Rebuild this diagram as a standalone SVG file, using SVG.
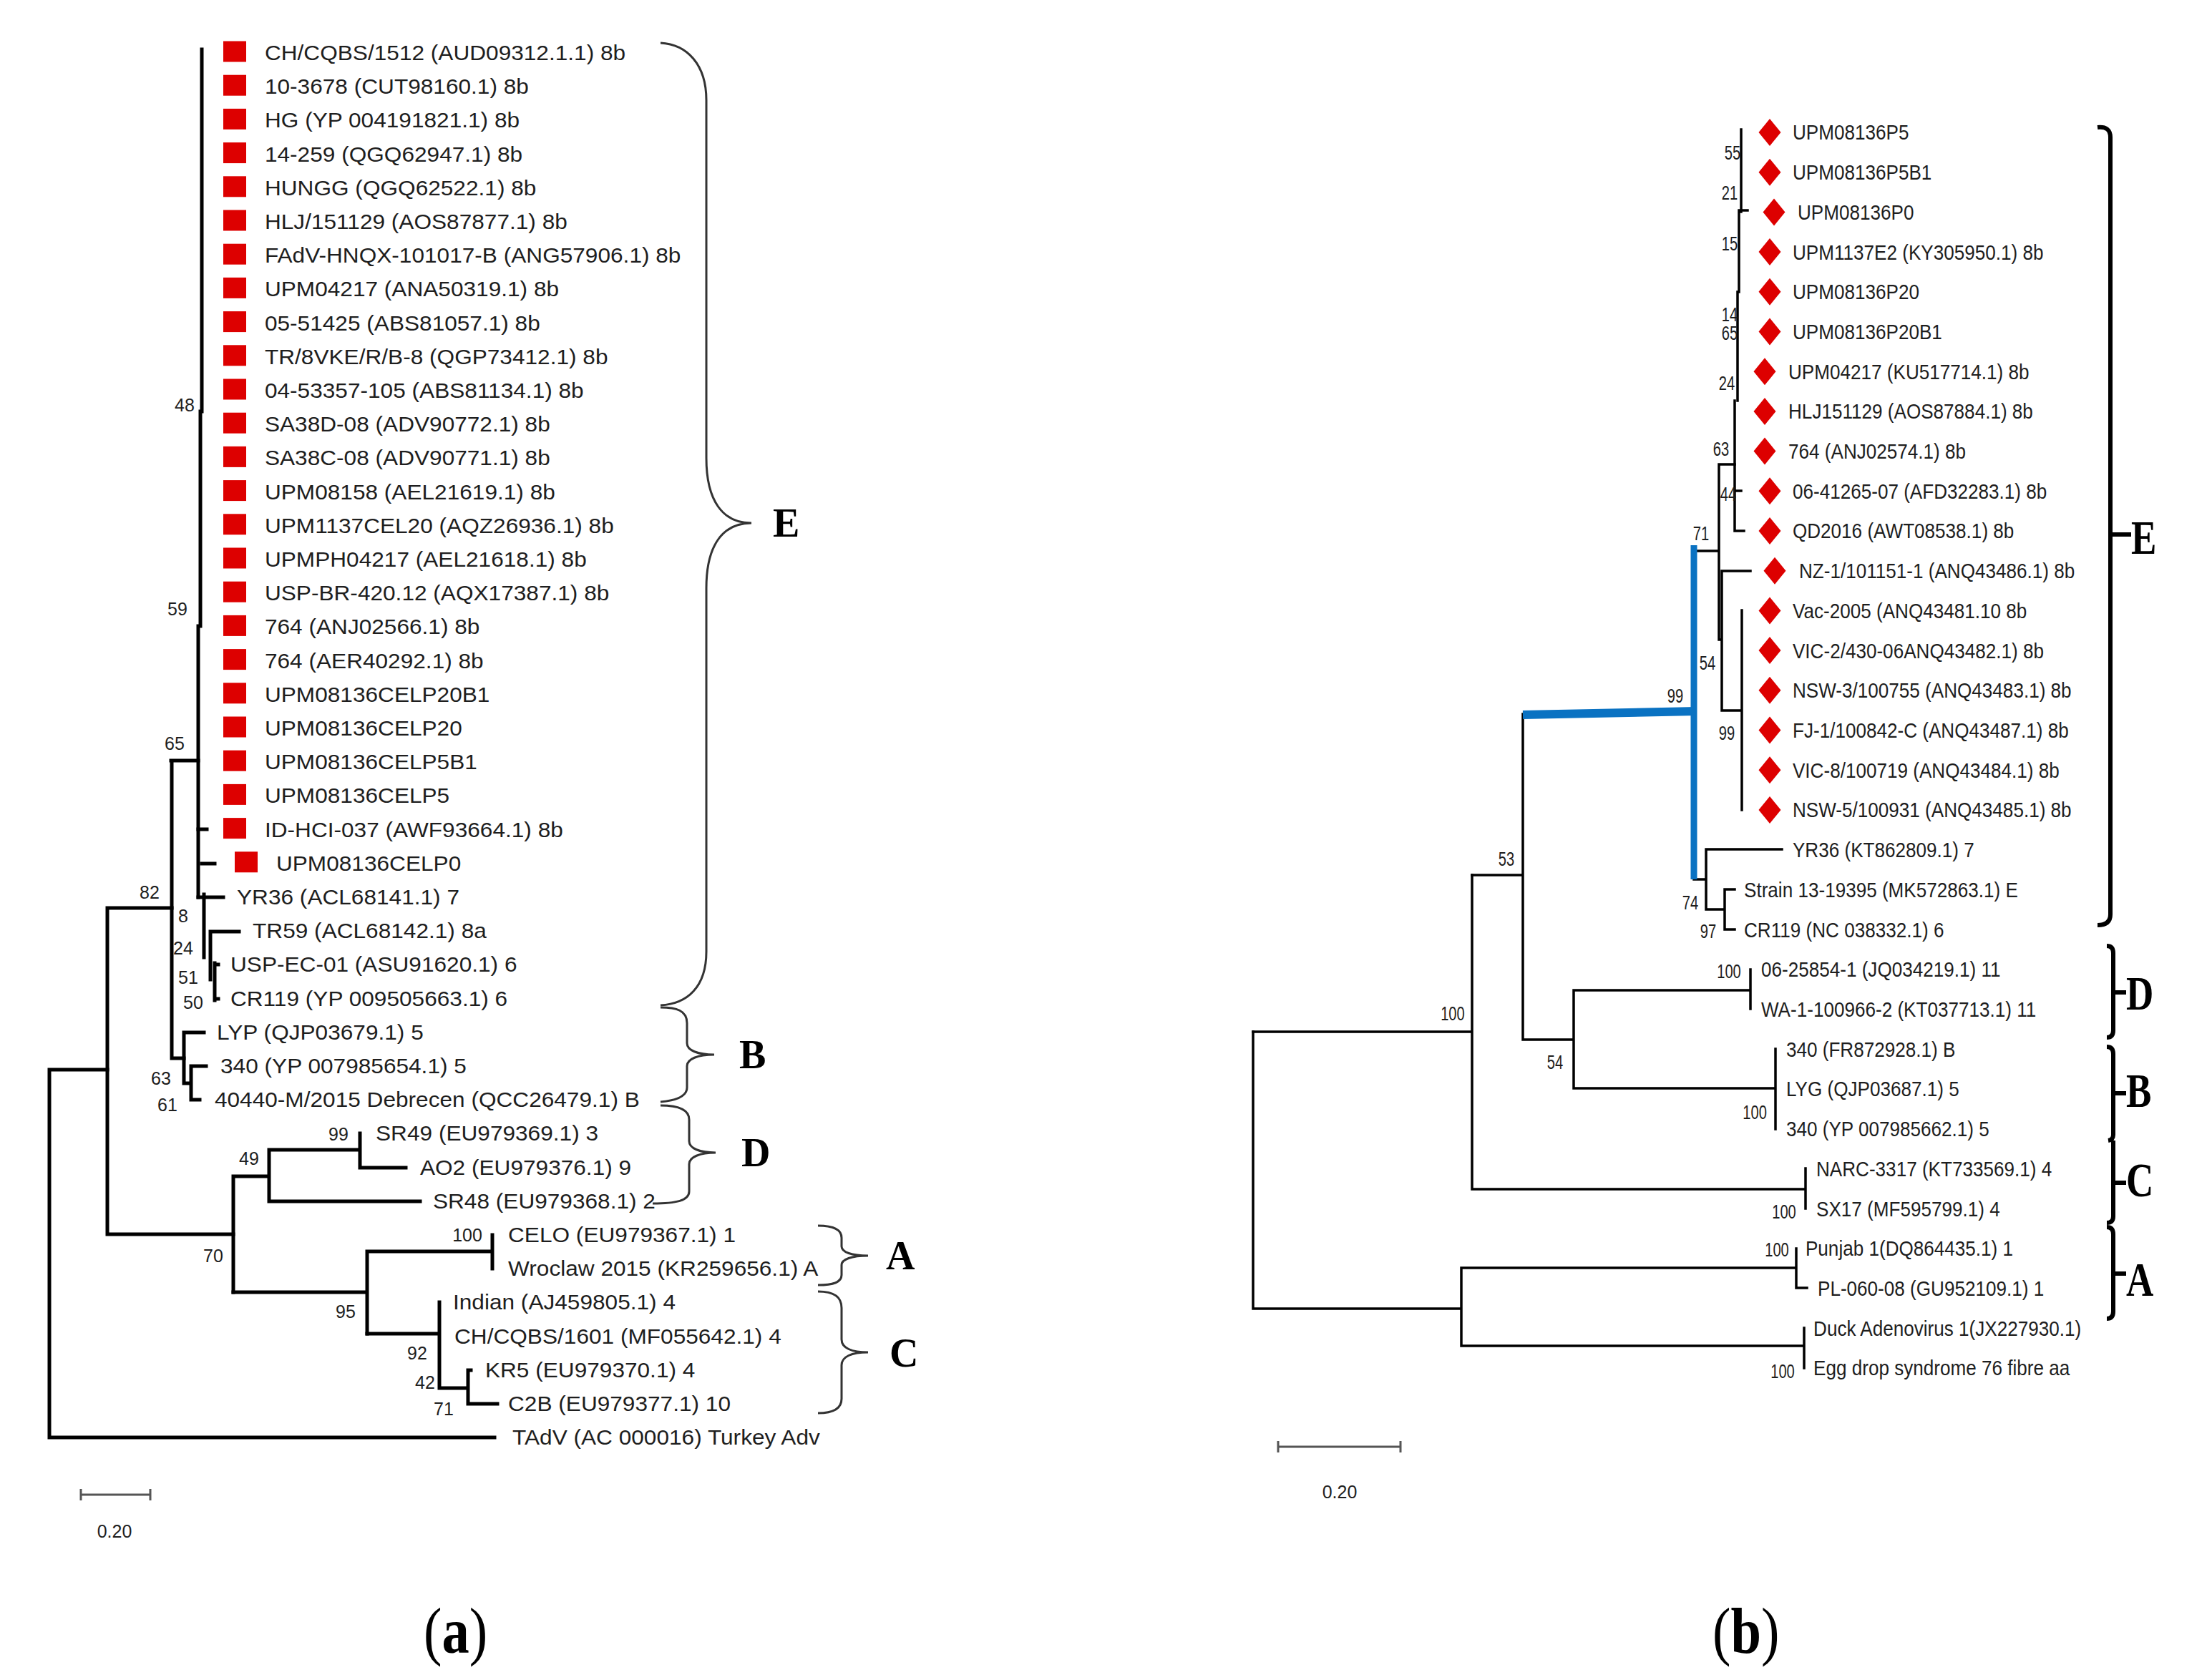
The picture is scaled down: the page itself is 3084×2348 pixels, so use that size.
<svg xmlns="http://www.w3.org/2000/svg" xmlns:xlink="http://www.w3.org/1999/xlink" width="3084" height="2348" viewBox="0 0 3084 2348">
<style>
text{font-family:"Liberation Sans",Arial,sans-serif;fill:#1e1e1e}
.lt{font-size:29px;transform:scaleX(1.09)}
.rt{font-size:29px;transform:scaleX(0.9)}
.lb{font-size:25px;text-anchor:middle}
.rb{font-size:28px;text-anchor:middle;transform:scaleX(0.72)}
.sc{font-size:25px;text-anchor:middle}
.ll{font-family:"Liberation Serif","Times New Roman",serif;font-weight:bold;font-size:56px;fill:#000}
.rl{font-family:"Liberation Serif","Times New Roman",serif;font-weight:bold;font-size:68px;fill:#000;transform:scaleX(0.78)}
.cap{font-family:"Liberation Serif","Times New Roman",serif;font-size:90px;fill:#000}
.sq{fill:#dd0000}
.lw{fill:none;stroke:#000;stroke-width:5;stroke-linecap:square}
.rw{fill:none;stroke:#000;stroke-width:3.5;stroke-linecap:square}
.blue{fill:none;stroke:#0a72c2;stroke-linecap:butt}
.brace{fill:none;stroke:#333;stroke-width:3}
.brk{fill:none;stroke:#000;stroke-width:6}
.bar{fill:none;stroke:#555;stroke-width:3}
</style>
<defs>
<path id="dia" d="M0,-19 L15.5,0 L0,19 L-15.5,0Z" fill="#dd0000"/>
</defs>
<rect width="3084" height="2348" fill="#fff"/>

<!-- ===== Left tree connectors ===== -->
<g id="left-connectors">
<path class="lw" d="M282,69 V575 M280,575 V875 M277,875 V1254"/>
<path class="lw" d="M277,1159 H289 M282,1207 H300 M277,1254 H312"/>
<path class="lw" d="M285,1250 V1338 M294,1302 V1369 M294,1302 H334 M300,1346 V1398 M300,1348 H305 M300,1396 H305"/>
<path class="lw" d="M239,1063 H277 M240,1063 V1479 M240,1479 H257"/>
<path class="lw" d="M257,1443 V1514 M257,1443 H285 M257,1514 H267 M267,1490 V1537 M267,1490 H288 M267,1537 H279"/>
<path class="lw" d="M150,1269 H240 M150,1269 V1725 M150,1725 H326"/>
<path class="lw" d="M69,1495 H150 M69,1495 V2009 M69,2009 H691"/>
<path class="lw" d="M326,1644 V1806 M326,1644 H376 M376,1607 V1679 M376,1607 H503 M503,1584 V1632 M503,1632 H567 M376,1679 H587"/>
<path class="lw" d="M326,1806 H513 M513,1749 V1864 M513,1749 H688 M688,1726 V1773"/>
<path class="lw" d="M513,1864 H614 M614,1820 V1940 M614,1940 H654 M654,1915 V1962 M654,1915 H658 M654,1962 H695"/>
<path class="bar" d="M113,2089 H210 M113,2081 V2097 M210,2081 V2097"/>
<path class="brace" d="M923,60 C960,62 987,90 987,140 V640 C987,700 1010,731 1050,731 C1010,731 987,762 987,822 V1330 C987,1380 960,1403 923,1405"/>
<path class="brace" d="M923,1408 C945,1408 960,1412 960,1430 V1458 C960,1468 975,1474 998,1474 C975,1474 960,1480 960,1490 V1520 C960,1532 945,1538 923,1540"/>
<path class="brace" d="M923,1545 C945,1545 963,1550 963,1565 V1595 C963,1605 978,1611 1000,1611 C978,1611 963,1617 963,1627 V1665 C963,1678 945,1682 912,1682"/>
<path class="brace" d="M1143,1713 C1165,1713 1176,1718 1176,1730 V1742 C1176,1750 1190,1755 1213,1755 C1190,1755 1176,1760 1176,1768 V1782 C1176,1792 1165,1796 1143,1796"/>
<path class="brace" d="M1143,1805 C1165,1805 1176,1812 1176,1828 V1872 C1176,1884 1190,1890 1213,1890 C1190,1890 1176,1896 1176,1908 V1955 C1176,1968 1165,1975 1143,1975"/>
</g>

<!-- ===== Left tree taxa ===== -->
<g id="left-taxa">
<g id="L01"><rect class="sq" x="312" y="57.5" width="32" height="29"/><text class="lt" x="339.4" y="84">CH/CQBS/1512 (AUD09312.1.1) 8b</text></g>
<g id="L02"><rect class="sq" x="312" y="104.7" width="32" height="29"/><text class="lt" x="339.4" y="131">10-3678 (CUT98160.1) 8b</text></g>
<g id="L03"><rect class="sq" x="312" y="151.9" width="32" height="29"/><text class="lt" x="339.4" y="178">HG (YP 004191821.1) 8b</text></g>
<g id="L04"><rect class="sq" x="312" y="199.1" width="32" height="29"/><text class="lt" x="339.4" y="226">14-259 (QGQ62947.1) 8b</text></g>
<g id="L05"><rect class="sq" x="312" y="246.3" width="32" height="29"/><text class="lt" x="339.4" y="273">HUNGG (QGQ62522.1) 8b</text></g>
<g id="L06"><rect class="sq" x="312" y="293.5" width="32" height="29"/><text class="lt" x="339.4" y="320">HLJ/151129 (AOS87877.1) 8b</text></g>
<g id="L07"><rect class="sq" x="312" y="340.7" width="32" height="29"/><text class="lt" x="339.4" y="367">FAdV-HNQX-101017-B (ANG57906.1) 8b</text></g>
<g id="L08"><rect class="sq" x="312" y="387.9" width="32" height="29"/><text class="lt" x="339.4" y="414">UPM04217 (ANA50319.1) 8b</text></g>
<g id="L09"><rect class="sq" x="312" y="435.1" width="32" height="29"/><text class="lt" x="339.4" y="462">05-51425 (ABS81057.1) 8b</text></g>
<g id="L10"><rect class="sq" x="312" y="482.3" width="32" height="29"/><text class="lt" x="339.4" y="509">TR/8VKE/R/B-8 (QGP73412.1) 8b</text></g>
<g id="L11"><rect class="sq" x="312" y="529.5" width="32" height="29"/><text class="lt" x="339.4" y="556">04-53357-105 (ABS81134.1) 8b</text></g>
<g id="L12"><rect class="sq" x="312" y="576.7" width="32" height="29"/><text class="lt" x="339.4" y="603">SA38D-08 (ADV90772.1) 8b</text></g>
<g id="L13"><rect class="sq" x="312" y="623.9" width="32" height="29"/><text class="lt" x="339.4" y="650">SA38C-08 (ADV90771.1) 8b</text></g>
<g id="L14"><rect class="sq" x="312" y="671.1" width="32" height="29"/><text class="lt" x="339.4" y="698">UPM08158 (AEL21619.1) 8b</text></g>
<g id="L15"><rect class="sq" x="312" y="718.3" width="32" height="29"/><text class="lt" x="339.4" y="745">UPM1137CEL20 (AQZ26936.1) 8b</text></g>
<g id="L16"><rect class="sq" x="312" y="765.5" width="32" height="29"/><text class="lt" x="339.4" y="792">UPMPH04217 (AEL21618.1) 8b</text></g>
<g id="L17"><rect class="sq" x="312" y="812.7" width="32" height="29"/><text class="lt" x="339.4" y="839">USP-BR-420.12 (AQX17387.1) 8b</text></g>
<g id="L18"><rect class="sq" x="312" y="859.9" width="32" height="29"/><text class="lt" x="339.4" y="886">764 (ANJ02566.1) 8b</text></g>
<g id="L19"><rect class="sq" x="312" y="907.1" width="32" height="29"/><text class="lt" x="339.4" y="934">764 (AER40292.1) 8b</text></g>
<g id="L20"><rect class="sq" x="312" y="954.3" width="32" height="29"/><text class="lt" x="339.4" y="981">UPM08136CELP20B1</text></g>
<g id="L21"><rect class="sq" x="312" y="1001.5" width="32" height="29"/><text class="lt" x="339.4" y="1028">UPM08136CELP20</text></g>
<g id="L22"><rect class="sq" x="312" y="1048.7" width="32" height="29"/><text class="lt" x="339.4" y="1075">UPM08136CELP5B1</text></g>
<g id="L23"><rect class="sq" x="312" y="1095.9" width="32" height="29"/><text class="lt" x="339.4" y="1122">UPM08136CELP5</text></g>
<g id="L24"><rect class="sq" x="312" y="1143.1" width="32" height="29"/><text class="lt" x="339.4" y="1170">ID-HCI-037 (AWF93664.1) 8b</text></g>
<g id="L25"><rect class="sq" x="328" y="1190.3" width="32" height="29"/><text class="lt" x="354.1" y="1217">UPM08136CELP0</text></g>
<g id="L26"><text class="lt" x="303.7" y="1264">YR36 (ACL68141.1) 7</text></g>
<g id="L27"><text class="lt" x="323.9" y="1311">TR59 (ACL68142.1) 8a</text></g>
<g id="L28"><text class="lt" x="295.4" y="1358">USP-EC-01 (ASU91620.1) 6</text></g>
<g id="L29"><text class="lt" x="295.4" y="1406">CR119 (YP 009505663.1) 6</text></g>
<g id="L30"><text class="lt" x="278" y="1453">LYP (QJP03679.1) 5</text></g>
<g id="L31"><text class="lt" x="282.6" y="1500">340 (YP 007985654.1) 5</text></g>
<g id="L32"><text class="lt" x="275.2" y="1547">40440-M/2015 Debrecen (QCC26479.1) B</text></g>
<g id="L33"><text class="lt" x="481.7" y="1594">SR49 (EU979369.1) 3</text></g>
<g id="L34"><text class="lt" x="538.5" y="1642">AO2 (EU979376.1) 9</text></g>
<g id="L35"><text class="lt" x="555" y="1689">SR48 (EU979368.1) 2</text></g>
<g id="L36"><text class="lt" x="651.4" y="1736">CELO (EU979367.1) 1</text></g>
<g id="L37"><text class="lt" x="651.4" y="1783">Wroclaw 2015 (KR259656.1) A</text></g>
<g id="L38"><text class="lt" x="580.7" y="1830">Indian (AJ459805.1) 4</text></g>
<g id="L39"><text class="lt" x="582.6" y="1878">CH/CQBS/1601 (MF055642.1) 4</text></g>
<g id="L40"><text class="lt" x="622" y="1925">KR5 (EU979370.1) 4</text></g>
<g id="L41"><text class="lt" x="651.4" y="1972">C2B (EU979377.1) 10</text></g>
<g id="L42"><text class="lt" x="656.9" y="2019">TAdV (AC 000016) Turkey Adv</text></g>
</g>

<g id="left-bootstrap">
<text class="lb" x="258" y="575">48</text>
<text class="lb" x="248" y="860">59</text>
<text class="lb" x="244" y="1048">65</text>
<text class="lb" x="209" y="1256">82</text>
<text class="lb" x="256" y="1289">8</text>
<text class="lb" x="256" y="1334">24</text>
<text class="lb" x="263" y="1375">51</text>
<text class="lb" x="270" y="1410">50</text>
<text class="lb" x="225" y="1516">63</text>
<text class="lb" x="234" y="1553">61</text>
<text class="lb" x="473" y="1594">99</text>
<text class="lb" x="348" y="1628">49</text>
<text class="lb" x="298" y="1764">70</text>
<text class="lb" x="653" y="1735">100</text>
<text class="lb" x="483" y="1842">95</text>
<text class="lb" x="583" y="1900">92</text>
<text class="lb" x="594" y="1941">42</text>
<text class="lb" x="620" y="1978">71</text>
<text class="sc" x="160" y="2149">0.20</text>
</g>

<g id="left-clades">
<text class="ll" x="1080" y="750">E</text>
<text class="ll" x="1033" y="1493">B</text>
<text class="ll" x="1036" y="1630">D</text>
<text class="ll" x="1238" y="1774">A</text>
<text class="ll" x="1243" y="1910">C</text>
</g>

<!-- ===== Right tree connectors ===== -->
<g id="right-connectors">
<path class="rw" d="M2433,181 V296 M2430,296 V408 M2428,408 V560 M2424,560 V742 M2430,294 H2442 M2424,686 H2433 M2424,742 H2437"/>
<path class="rw" d="M2402,649 H2424 M2402,649 V894 M2366,770 H2402 M2402,894 H2406 M2406,798 V993 M2406,798 H2446 M2406,993 H2434 M2434,853 V1132"/>
<path class="rw" d="M2384,1187 V1271 M2384,1187 H2490 M2384,1271 H2410 M2410,1243 V1299 M2410,1243 H2424 M2410,1299 H2424 M2367,1229 H2384"/>
<path class="rw" d="M2128,998 V1453 M2057,1223 H2128 M2128,1453 H2199 M2199,1384 V1521 M2199,1384 H2446 M2446,1355 V1410 M2199,1521 H2481 M2481,1466 V1578"/>
<path class="rw" d="M2057,1223 V1662 M1751,1442 H2057 M2057,1662 H2523 M2523,1633 V1689"/>
<path class="rw" d="M1751,1442 V1829 M1751,1829 H2042 M2042,1772 V1881 M2042,1772 H2510 M2510,1745 V1800 M2510,1800 H2525 M2042,1881 H2521 M2521,1856 V1912"/>
<path class="blue" stroke-width="12" d="M2128,999 L2370,994"/>
<path class="blue" stroke-width="9" d="M2367,762 V1229"/>
<path class="bar" d="M1786,2022 H1957 M1786,2014 V2030 M1957,2014 V2030"/>
<path class="brk" d="M2931,178 Q2949,176 2949,192 V1278 Q2949,1293 2931,1293 M2949,747 H2978"/>
<path class="brk" d="M2944,1322 Q2953,1322 2953,1332 V1440 Q2953,1450 2944,1450 M2953,1387 H2971"/>
<path class="brk" d="M2944,1463 Q2953,1463 2953,1473 V1586 Q2953,1593 2946,1594 M2953,1528 H2971"/>
<path class="brk" d="M2953,1594 V1700 Q2953,1709 2944,1709 M2953,1653 H2971"/>
<path class="brk" d="M2944,1715 Q2953,1715 2953,1725 V1833 Q2953,1843 2944,1843 M2953,1780 H2971"/>
</g>

<!-- ===== Right tree taxa ===== -->
<g id="right-taxa">
<g id="R01"><use href="#dia" x="2473" y="185"/><text class="rt" x="2783.3" y="195.5">UPM08136P5</text></g>
<g id="R02"><use href="#dia" x="2473" y="240.7"/><text class="rt" x="2783.3" y="251">UPM08136P5B1</text></g>
<g id="R03"><use href="#dia" x="2479" y="296.4"/><text class="rt" x="2791.1" y="307">UPM08136P0</text></g>
<g id="R04"><use href="#dia" x="2473" y="352.1"/><text class="rt" x="2783.3" y="363">UPM1137E2 (KY305950.1) 8b</text></g>
<g id="R05"><use href="#dia" x="2473" y="407.8"/><text class="rt" x="2783.3" y="418">UPM08136P20</text></g>
<g id="R06"><use href="#dia" x="2473" y="463.5"/><text class="rt" x="2783.3" y="474">UPM08136P20B1</text></g>
<g id="R07"><use href="#dia" x="2466" y="519.2"/><text class="rt" x="2776.7" y="530">UPM04217 (KU517714.1) 8b</text></g>
<g id="R08"><use href="#dia" x="2466" y="574.9"/><text class="rt" x="2776.7" y="585">HLJ151129 (AOS87884.1) 8b</text></g>
<g id="R09"><use href="#dia" x="2466" y="630.6"/><text class="rt" x="2776.7" y="641">764 (ANJ02574.1) 8b</text></g>
<g id="R10"><use href="#dia" x="2473" y="686.3"/><text class="rt" x="2783.3" y="697">06-41265-07 (AFD32283.1) 8b</text></g>
<g id="R11"><use href="#dia" x="2473" y="742"/><text class="rt" x="2783.3" y="752">QD2016 (AWT08538.1) 8b</text></g>
<g id="R12"><use href="#dia" x="2480" y="797.7"/><text class="rt" x="2793.3" y="808">NZ-1/101151-1 (ANQ43486.1) 8b</text></g>
<g id="R13"><use href="#dia" x="2473" y="853.4"/><text class="rt" x="2783.3" y="864">Vac-2005 (ANQ43481.10 8b</text></g>
<g id="R14"><use href="#dia" x="2473" y="909.1"/><text class="rt" x="2783.3" y="920">VIC-2/430-06ANQ43482.1) 8b</text></g>
<g id="R15"><use href="#dia" x="2473" y="964.8"/><text class="rt" x="2783.3" y="975">NSW-3/100755 (ANQ43483.1) 8b</text></g>
<g id="R16"><use href="#dia" x="2473" y="1020.5"/><text class="rt" x="2783.3" y="1031">FJ-1/100842-C (ANQ43487.1) 8b</text></g>
<g id="R17"><use href="#dia" x="2473" y="1076.2"/><text class="rt" x="2783.3" y="1087">VIC-8/100719 (ANQ43484.1) 8b</text></g>
<g id="R18"><use href="#dia" x="2473" y="1131.9"/><text class="rt" x="2783.3" y="1142">NSW-5/100931 (ANQ43485.1) 8b</text></g>
<g id="R19"><text class="rt" x="2783.3" y="1198">YR36 (KT862809.1) 7</text></g>
<g id="R20"><text class="rt" x="2707.8" y="1254">Strain 13-19395 (MK572863.1) E</text></g>
<g id="R21"><text class="rt" x="2707.8" y="1310">CR119 (NC 038332.1) 6</text></g>
<g id="R22"><text class="rt" x="2734.4" y="1365">06-25854-1 (JQ034219.1) 11</text></g>
<g id="R23"><text class="rt" x="2734.4" y="1421">WA-1-100966-2 (KT037713.1) 11</text></g>
<g id="R24"><text class="rt" x="2773.3" y="1477">340 (FR872928.1) B</text></g>
<g id="R25"><text class="rt" x="2773.3" y="1532">LYG (QJP03687.1) 5</text></g>
<g id="R26"><text class="rt" x="2773.3" y="1588">340 (YP 007985662.1) 5</text></g>
<g id="R27"><text class="rt" x="2820" y="1644">NARC-3317 (KT733569.1) 4</text></g>
<g id="R28"><text class="rt" x="2820" y="1700">SX17 (MF595799.1) 4</text></g>
<g id="R29"><text class="rt" x="2803.3" y="1755">Punjab 1(DQ864435.1) 1</text></g>
<g id="R30"><text class="rt" x="2822.2" y="1811">PL-060-08 (GU952109.1) 1</text></g>
<g id="R31"><text class="rt" x="2815.6" y="1867">Duck Adenovirus 1(JX227930.1)</text></g>
<g id="R32"><text class="rt" x="2815.6" y="1922">Egg drop syndrome 76 fibre aa</text></g>
</g>

<g id="right-bootstrap">
<text class="rb" x="3362.5" y="223">55</text>
<text class="rb" x="3356.9" y="279">21</text>
<text class="rb" x="3356.9" y="350">15</text>
<text class="rb" x="3356.9" y="449">14</text>
<text class="rb" x="3356.9" y="475">65</text>
<text class="rb" x="3351.4" y="545">24</text>
<text class="rb" x="3340.3" y="637">63</text>
<text class="rb" x="3354.2" y="700">44</text>
<text class="rb" x="3301.4" y="755">71</text>
<text class="rb" x="3313.9" y="936">54</text>
<text class="rb" x="3251.4" y="982">99</text>
<text class="rb" x="3351.4" y="1034">99</text>
<text class="rb" x="2923.6" y="1210">53</text>
<text class="rb" x="3280.6" y="1271">74</text>
<text class="rb" x="3315.3" y="1311">97</text>
<text class="rb" x="3355.6" y="1367">100</text>
<text class="rb" x="2819.4" y="1426">100</text>
<text class="rb" x="3018.1" y="1494">54</text>
<text class="rb" x="3405.6" y="1564">100</text>
<text class="rb" x="3462.5" y="1703">100</text>
<text class="rb" x="3448.6" y="1756">100</text>
<text class="rb" x="3459.7" y="1926">100</text>
<text class="sc" x="1872" y="2094">0.20</text>
</g>

<g id="right-clades">
<text class="rl" x="3817.9" y="774">E</text>
<text class="rl" x="3809" y="1411">D</text>
<text class="rl" x="3809" y="1547">B</text>
<text class="rl" x="3809" y="1672">C</text>
<text class="rl" x="3809" y="1811">A</text>
</g>

<g id="captions">
<text class="cap" transform="translate(592,2310) scale(0.85,1)">(<tspan font-weight="bold">a</tspan>)</text>
<text class="cap" transform="translate(2393,2310) scale(0.85,1)">(<tspan font-weight="bold">b</tspan>)</text>
</g>
</svg>
